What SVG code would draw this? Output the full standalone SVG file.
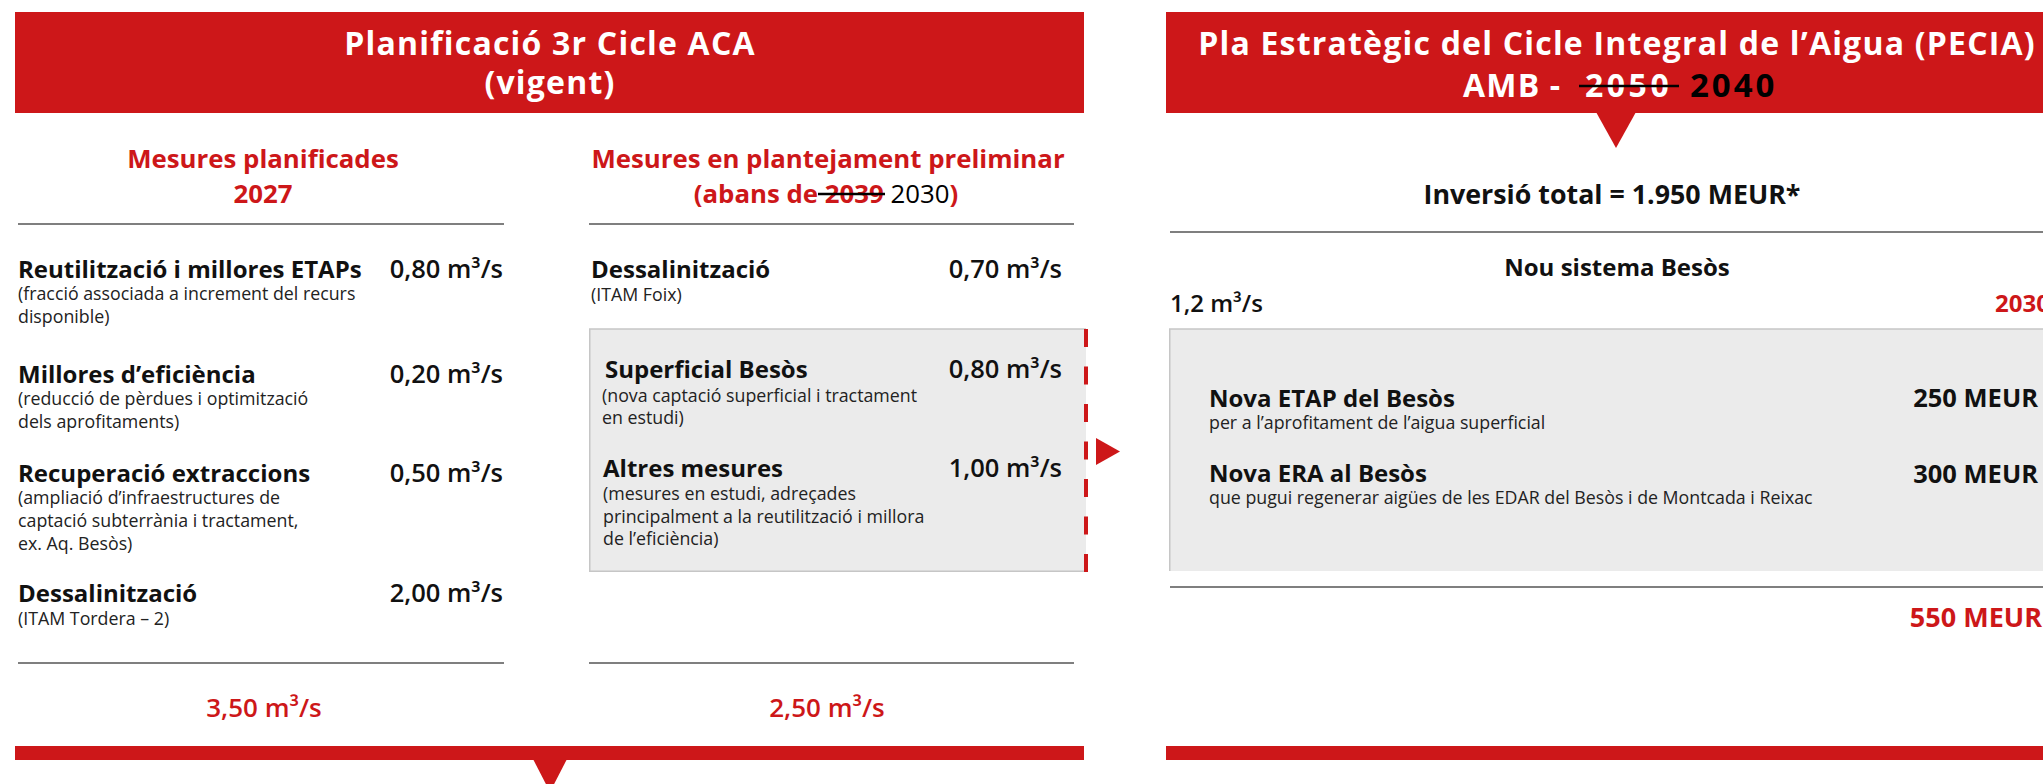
<svg xmlns="http://www.w3.org/2000/svg" width="2043" height="784" viewBox="0 0 2043 784">
<style>
text{font-family:"Open Sans","Liberation Sans",sans-serif;fill:#111}
.title{font-size:32px;font-weight:700;fill:#fff;letter-spacing:1.2px}
.sub{font-size:25.8px;font-weight:700;fill:#cd1719}
.h{font-size:24px;font-weight:700}
.v{font-size:25.5px;font-weight:600}
.d{font-size:17.8px;font-weight:400;fill:#222}
.tot{font-size:26px;font-weight:600;fill:#cd1719}
.m{text-anchor:middle}
.e{text-anchor:end}
.red{fill:#cd1719}
.blk{fill:#000}
.rule{stroke:#555;stroke-width:1.6}
.strike{stroke:#000;stroke-width:2.6}
.panel{fill:#ebebeb}
.pedge{stroke:#c6c6c6;stroke-width:1.5;fill:none}
</style>
<rect width="2043" height="784" fill="#fff"/>

<g id="header-aca">
<rect x="15" y="12" width="1069" height="101" class="red"/>
<text class="title m"><tspan x="550" y="55">Planificació 3r Cicle ACA</tspan><tspan x="550" y="94">(vigent)</tspan></text>
</g>

<g id="header-pecia">
<rect x="1166" y="12" width="900" height="101" class="red"/>
<polygon points="1596,112 1636,112 1616,148" class="red"/>
<text class="title m" x="1617" y="55">Pla Estratègic del Cicle Integral de l’Aigua (PECIA)</text>
<text class="title" y="97"><tspan x="1463">AMB -</tspan><tspan x="1585" style="letter-spacing:3.5px">2050</tspan><tspan x="1690" class="blk" style="font-size:33px;letter-spacing:3px">2040</tspan></text>
<line class="strike" x1="1579" y1="86" x2="1679" y2="86" stroke-width="3"/>
</g>

<g id="col-planificades">
<text class="sub m"><tspan x="263" y="168">Mesures planificades</tspan><tspan x="263" y="203">2027</tspan></text>
<line class="rule" x1="18" y1="224" x2="504" y2="224"/>
<text class="h" x="18" y="278">Reutilització i millores ETAPs</text>
<text class="v e" x="503" y="278">0,80 m³/s</text>
<text class="d"><tspan x="18" y="300">(fracció associada a increment del recurs</tspan><tspan x="18" y="323">disponible)</tspan></text>
<text class="h" x="18" y="383">Millores d’eficiència</text>
<text class="v e" x="503" y="383">0,20 m³/s</text>
<text class="d"><tspan x="18" y="405">(reducció de pèrdues i optimització</tspan><tspan x="18" y="428">dels aprofitaments)</tspan></text>
<text class="h" x="18" y="482">Recuperació extraccions</text>
<text class="v e" x="503" y="482">0,50 m³/s</text>
<text class="d"><tspan x="18" y="504">(ampliació d’infraestructures de</tspan><tspan x="18" y="527">captació subterrània i tractament,</tspan><tspan x="18" y="550">ex. Aq. Besòs)</tspan></text>
<text class="h" x="18" y="602">Dessalinització</text>
<text class="v e" x="503" y="602">2,00 m³/s</text>
<text class="d" x="18" y="625">(ITAM Tordera – 2)</text>
<line class="rule" x1="18" y1="663" x2="504" y2="663"/>
<text class="tot m" x="264" y="717">3,50 m³/s</text>
</g>

<g id="col-preliminar">
<text class="sub m"><tspan x="828" y="168">Mesures en plantejament preliminar</tspan><tspan x="826" y="203">(abans de 2039 <tspan class="blk" style="font-weight:500">2030</tspan>)</tspan></text>
<line class="strike" x1="818" y1="194" x2="885" y2="194"/>
<line class="rule" x1="589" y1="224" x2="1074" y2="224"/>
<text class="h" x="591" y="278">Dessalinització</text>
<text class="v e" x="1062" y="278">0,70 m³/s</text>
<text class="d" x="591" y="301">(ITAM Foix)</text>
<rect class="panel" x="589" y="329" width="497" height="243"/>
<path class="pedge" d="M1086,329 H589.75 V571.25 H1086"/>
<text class="h" x="605" y="378">Superficial Besòs</text>
<text class="v e" x="1062" y="378">0,80 m³/s</text>
<text class="d"><tspan x="602" y="402">(nova captació superficial i tractament</tspan><tspan x="602" y="424">en estudi)</tspan></text>
<text class="h" x="603" y="477">Altres mesures</text>
<text class="v e" x="1062" y="477">1,00 m³/s</text>
<text class="d"><tspan x="603" y="500">(mesures en estudi, adreçades</tspan><tspan x="603" y="523">principalment a la reutilització i millora</tspan><tspan x="603" y="545">de l’eficiència)</tspan></text>
<line class="rule" x1="589" y1="663" x2="1074" y2="663"/>
<text class="tot m" x="827" y="717">2,50 m³/s</text>
</g>

<g id="col-pecia">
<text class="h m" x="1612" y="204" style="font-size:26.8px">Inversió total = 1.950 MEUR*</text>
<line class="rule" x1="1170" y1="232" x2="2043" y2="232"/>
<text class="h m" x="1617" y="276">Nou sistema Besòs</text>
<text class="v" x="1170" y="312" style="font-size:24px">1,2 m³/s</text>
<text class="h red" x="1995" y="312">2030</text>
<rect class="panel" x="1169" y="329" width="900" height="242"/>
<path class="pedge" d="M2043,329 H1169.75 V571"/>
<text class="h" x="1209" y="407">Nova ETAP del Besòs</text>
<text class="v e" x="2038" y="407" style="font-weight:700">250 MEUR</text>
<text class="d" x="1209" y="429">per a l’aprofitament de l’aigua superficial</text>
<text class="h" x="1209" y="482">Nova ERA al Besòs</text>
<text class="v e" x="2038" y="483" style="font-weight:700">300 MEUR</text>
<text class="d" x="1209" y="504">que pugui regenerar aigües de les EDAR del Besòs i de Montcada i Reixac</text>
<line class="rule" x1="1170" y1="587" x2="2043" y2="587"/>
<text class="tot e" x="2042" y="627" style="font-weight:700;font-size:27px">550 MEUR</text>
</g>

<g id="footer-aca">
<rect x="15" y="746" width="1069" height="14" class="red"/>
<polygon points="533,759 567,759 550,792" class="red"/>
</g>

<g id="footer-pecia">
<rect x="1166" y="746" width="900" height="14" class="red"/>
</g>

<g id="connectors">
<line x1="1086" y1="329" x2="1086" y2="572" stroke="#cd1719" stroke-width="4" stroke-dasharray="18 19.5"/>
<polygon points="1096,438 1096,465 1120,451.5" class="red"/>
</g>
</svg>
